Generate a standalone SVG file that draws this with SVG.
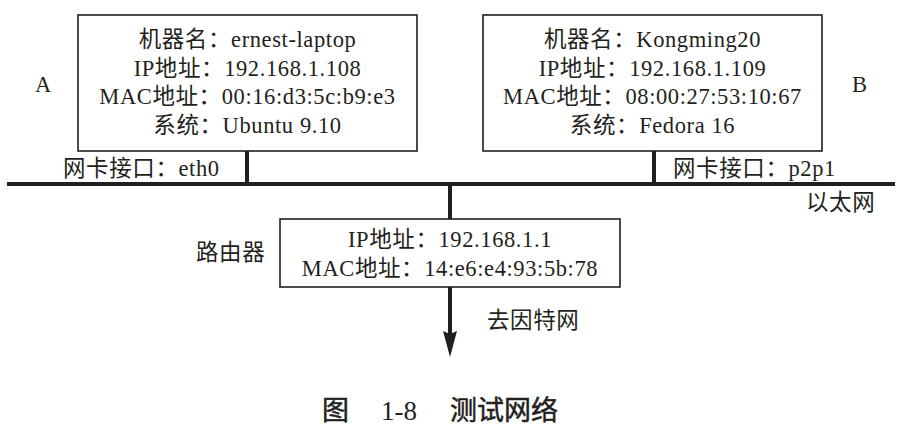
<svg xmlns="http://www.w3.org/2000/svg" width="922" height="431" viewBox="0 0 922 431">
<style>
.box{fill:#fff;stroke:#231f20;stroke-width:1.6}
.wire{stroke:#231f20;stroke-width:4;fill:none}
.head{fill:#231f20}
.t{font-family:"Liberation Serif","Noto Sans CJK SC",serif;font-size:22.5px;fill:#231f20;letter-spacing:0.6px}
.c{text-anchor:middle}
.cap{font-family:"Noto Sans CJK SC",sans-serif;font-size:27px;font-weight:normal;fill:#231f20;stroke:#231f20;stroke-width:0.5px}
.capn{font-family:"Liberation Serif",serif;font-size:27px;fill:#231f20}
</style>
<rect width="922" height="431" fill="#fff"/>
<g id="connectors">
<line class="wire" x1="7" y1="184" x2="895" y2="184"/>
<line class="wire" x1="247" y1="151" x2="247" y2="184"/>
<line class="wire" x1="654" y1="151" x2="654" y2="184"/>
<line class="wire" x1="450" y1="184" x2="450" y2="219"/>
<line class="wire" x1="450" y1="287" x2="450" y2="336"/>
<polygon class="head" points="443,331 450,334 457,331 450,357"/>
</g>
<g id="hostA">
<rect class="box" x="78" y="15" width="339" height="136"/>
<text class="t c" x="247.5" y="47">机器名：ernest-laptop</text>
<text class="t c" x="247.5" y="75.5">IP地址：192.168.1.108</text>
<text class="t c" x="247.5" y="104">MAC地址：00:16:d3:5c:b9:e3</text>
<text class="t c" x="247.5" y="132.5">系统：Ubuntu 9.10</text>
<text class="t" x="35" y="92">A</text>
<text class="t" x="63" y="176">网卡接口：eth0</text>
</g>
<g id="hostB">
<rect class="box" x="483" y="15" width="339" height="136"/>
<text class="t c" x="652.5" y="47">机器名：Kongming20</text>
<text class="t c" x="652.5" y="75.5">IP地址：192.168.1.109</text>
<text class="t c" x="652.5" y="104">MAC地址：08:00:27:53:10:67</text>
<text class="t c" x="652.5" y="132.5">系统：Fedora 16</text>
<text class="t" x="852" y="92">B</text>
<text class="t" x="673" y="176">网卡接口：p2p1</text>
</g>
<g id="ethernet">
<text class="t" x="806" y="210">以太网</text>
</g>
<g id="router">
<rect class="box" x="280" y="219" width="340" height="68"/>
<text class="t c" x="450" y="247">IP地址：192.168.1.1</text>
<text class="t c" x="450" y="275.5">MAC地址：14:e6:e4:93:5b:78</text>
<text class="t" x="196" y="260">路由器</text>
</g>
<g id="internet">
<text class="t" x="487" y="328">去因特网</text>
</g>
<g id="caption">
<text class="cap" x="322" y="420">图</text>
<text class="capn" x="381" y="420">1-8</text>
<text class="cap" x="450" y="420">测试网络</text>
</g>
</svg>
